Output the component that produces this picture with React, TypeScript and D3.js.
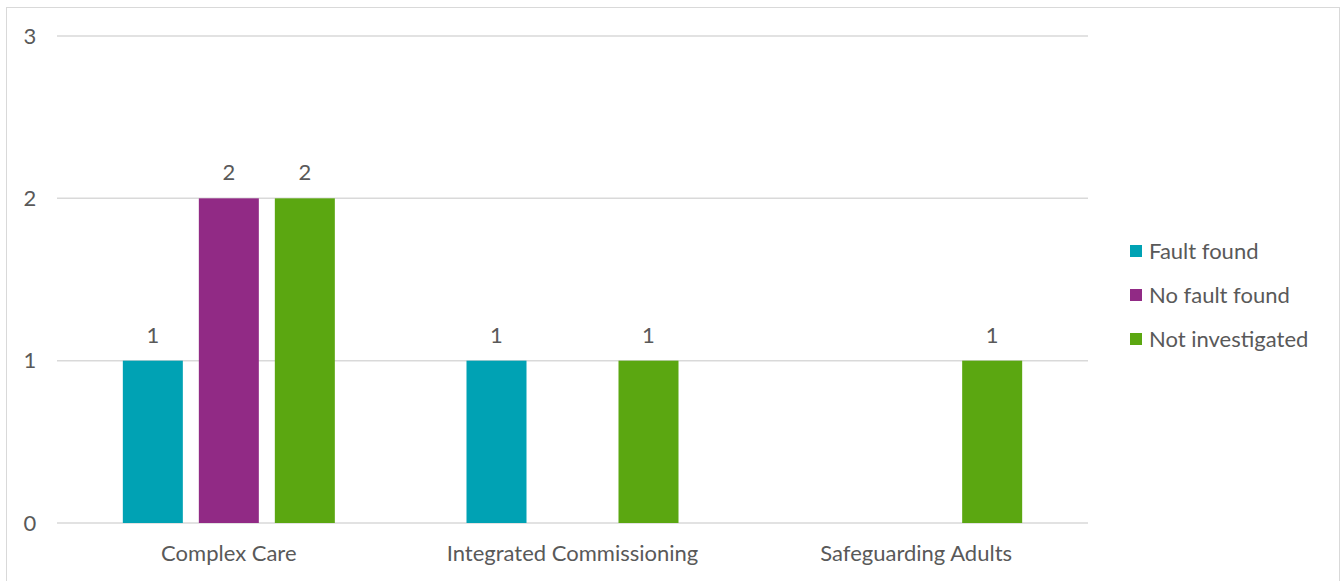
import React from "react";
import * as d3 from "d3";

const categories = ["Complex Care", "Integrated Commissioning", "Safeguarding Adults"];
const seriesNames = ["Fault found", "No fault found", "Not investigated"];
const seriesColors = ["#00a2b4", "#912a85", "#5ba711"];
const faultFound = [1, 1, 0];
const noFaultFound = [2, 0, 0];
const notInvestigated = [2, 1, 1];
const yTicks = [0, 1, 2, 3];

const seriesValues = [faultFound, noFaultFound, notInvestigated];

const W = 1343;
const H = 581;
const plot = { left: 57, right: 1088, top: 36, bottom: 523 };
const FONT = "Lato, 'Open Sans', sans-serif";
const TEXT = "#595959";
const FS = 22;

export default function App() {
  const x = d3.scaleBand<string>().domain(categories).range([plot.left, plot.right]);
  const y = d3.scaleLinear().domain([0, 3]).range([plot.bottom, plot.top]);
  const inner = d3.scaleBand<string>().domain(seriesNames).range([-106, 106]).paddingInner(16 / 76);

  return (
    <svg width={W} height={H} style={{ position: "absolute", left: 0, top: 0, background: "#fff" }}>
      <rect x={6.5} y={7.5} width={1333} height={590} fill="#fff" stroke="#d9d9d9" strokeWidth={1} />
      {yTicks.map((t) => (
        <g key={t}>
          <line x1={plot.left} x2={plot.right} y1={y(t)} y2={y(t)} stroke="#d9d9d9" strokeWidth={1.5} />
          <text x={30} y={y(t)} dy="0.35em" textAnchor="middle" fontFamily={FONT} fontSize={FS} fill={TEXT}>
            {t}
          </text>
        </g>
      ))}
      {categories.map((c, ci) => {
        const cx = (x(c) ?? 0) + x.bandwidth() / 2;
        return (
          <g key={c}>
            {seriesNames.map((s, si) => {
              const v = seriesValues[si][ci];
              if (!v) return null;
              const bx = cx + (inner(s) ?? 0);
              return (
                <g key={s}>
                  <rect x={bx} y={y(v)} width={inner.bandwidth()} height={y(0) - y(v)} fill={seriesColors[si]} />
                  <text
                    x={bx + inner.bandwidth() / 2}
                    y={y(v) - 18}
                    textAnchor="middle"
                    fontFamily={FONT}
                    fontSize={FS}
                    fill={TEXT}
                  >
                    {v}
                  </text>
                </g>
              );
            })}
            <text x={cx} y={561} textAnchor="middle" fontFamily={FONT} fontSize={FS} fill={TEXT}>
              {c}
            </text>
          </g>
        );
      })}
      {seriesNames.map((s, i) => (
        <g key={s} transform={`translate(1130, ${251 + i * 44})`}>
          <rect x={0} y={-6} width={12} height={12} fill={seriesColors[i]} />
          <text x={19} y={0} dy="0.35em" fontFamily={FONT} fontSize={FS} fill={TEXT}>
            {s}
          </text>
        </g>
      ))}
    </svg>
  );
}
